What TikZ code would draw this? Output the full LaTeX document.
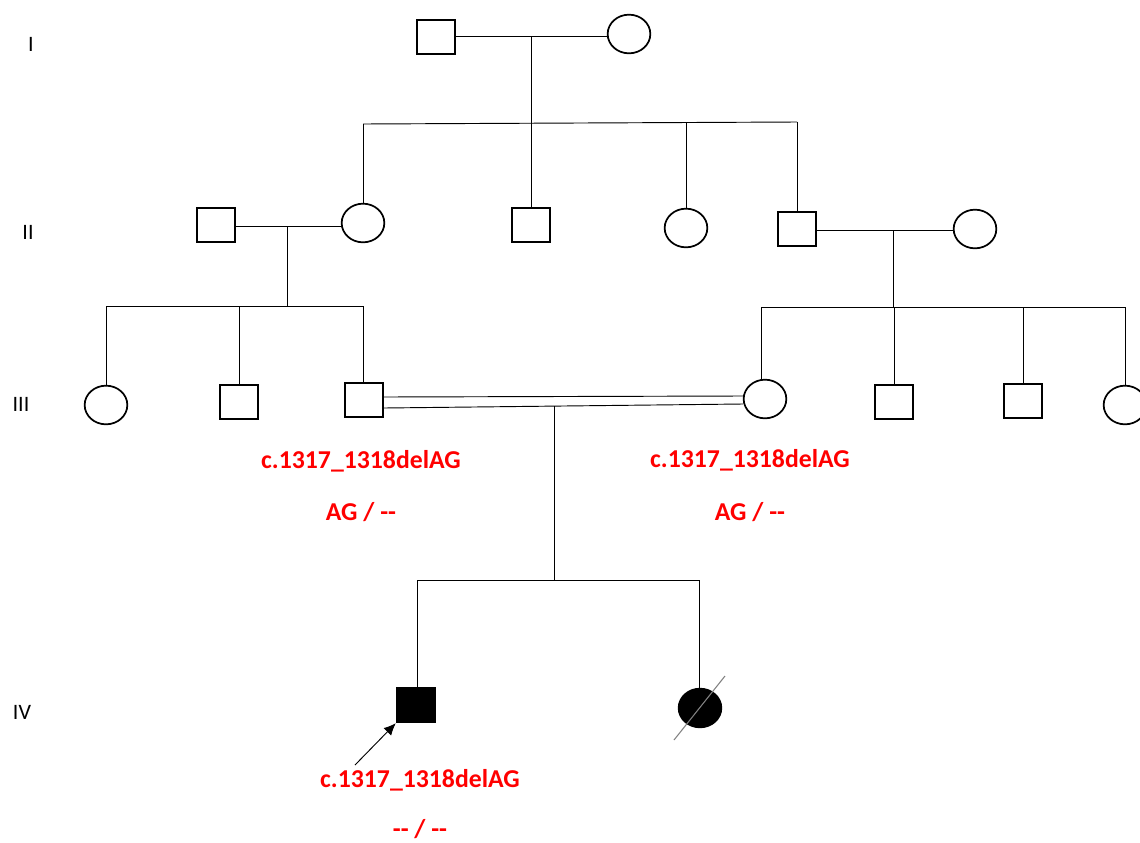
\documentclass[tikz,border=0pt]{standalone}
\usepackage{fontspec}
\setmainfont{Carlito}
\usetikzlibrary{shapes.geometric,arrows.meta}
\begin{document}
\begin{tikzpicture}[x=0.75pt,y=-0.75pt,
  male/.style={draw,line width=1.3pt,minimum width=29pt,minimum height=26pt,inner sep=0pt},
  female/.style={draw,ellipse,line width=1.3pt,minimum width=32pt,minimum height=29pt,inner sep=0pt},
  affected/.style={fill=black},
  rel/.style={line width=0.7pt},
  gen/.style={font=\fontsize{16.5}{19}\selectfont},
  mut/.style={text=red,font=\bfseries\fontsize{19.3}{23}\selectfont}]
\useasboundingbox (0,0) rectangle (1140,843);

% generation labels
\node[gen] (gI)   at (31,44)  {I};
\node[gen] (gII)  at (28,232) {II};
\node[gen] (gIII) at (21,404) {III};
\node[gen] (gIV)  at (22,712) {IV};

% generation I
\node[male]   (i1) at (436,37) {};
\node[female] (i2) at (629,34) {};
\coordinate (m1) at (531,36);
\draw[rel] (i1.east |- m1) -- (i2.west |- m1);

% generation II
\node[male]   (ii1) at (216,225) {};
\node[female] (ii2) at (363,223) {};
\node[male]   (ii3) at (531,225) {};
\node[female] (ii4) at (686,228) {};
\node[male]   (ii5) at (797,229) {};
\node[female] (ii6) at (975,229) {};

\coordinate (s1l) at (363,124);
\coordinate (s1r) at (797,122);
\draw[rel] (m1) -- (531,123);
\draw[rel] (s1l) -- (s1r);
\draw[rel] (s1l) -- (ii2.north);
\draw[rel] (531,123) -- (ii3.north);
\draw[rel] (686,123) -- (ii4.north);
\draw[rel] (s1r) -- (ii5.north);

\coordinate (m2) at (287,226);
\coordinate (m3) at (893,230);
\draw[rel] (ii1.east |- m2) -- (ii2.west |- m2);
\draw[rel] (ii5.east |- m3) -- (ii6.west |- m3);

% generation III
\node[female] (iii1) at (106,405) {};
\node[male]   (iii2) at (239,402) {};
\node[male]   (iii3) at (364,400) {};
\node[female] (iii4) at (765,399) {};
\node[male]   (iii5) at (894,402) {};
\node[male]   (iii6) at (1023,401) {};
\node[female] (iii7) at (1125,405) {};

\coordinate (s2l) at (106,306);
\coordinate (s2r) at (363,306);
\draw[rel] (m2) -- (287,306);
\draw[rel] (s2l) -- (s2r);
\draw[rel] (s2l) -- (iii1.north);
\draw[rel] (239,306) -- (iii2.north);
\draw[rel] (s2r) -- (s2r |- iii3.north);

\coordinate (s3l) at (761,307);
\coordinate (s3r) at (1125,307);
\draw[rel] (m3) -- (893,307);
\draw[rel] (s3l) -- (s3r);
\draw[rel] (s3l) -- (761,381);
\draw[rel] (894,307) -- (iii5.north);
\draw[rel] (1023,307) -- (iii6.north);
\draw[rel] (s3r) -- (iii7.north);

% consanguineous union
\draw[rel] (iii3.east |- 0,397) -- (iii4.west |- 0,396);
\draw[rel] (iii3.east |- 0,408) -- (iii4.west |- 0,404);
\coordinate (m4) at (554,406);

% generation IV
\node[male,affected]   (iv1) at (416,705) {};
\node[female,affected] (iv2) at (700,708) {};
\coordinate (s4l) at (417,580);
\coordinate (s4r) at (699,580);
\draw[rel] (m4) -- (554,580);
\draw[rel] (s4l) -- (s4r);
\draw[rel] (s4l) -- (s4l |- iv1.north);
\draw[rel] (s4r) -- (s4r |- iv2.north);

% deceased
\coordinate (d1) at (674,740);
\coordinate (d2) at (725,676);
\draw[line width=0.8pt,gray] (d1) -- (d2);

% proband arrow
\coordinate (pa) at (355,765);
\draw[rel,-{Latex[length=9pt,width=8pt]}] (pa) -- (iv1.south west);

% variant annotations
\node[mut] (t1) at (361,461) {c.1317\_1318delAG};
\node[mut] (g1) at (361,512) {AG / -{}-};
\node[mut] (t2) at (750,460) {c.1317\_1318delAG};
\node[mut] (g2) at (750,512) {AG / -{}-};
\node[mut] (t3) at (420,780) {c.1317\_1318delAG};
\node[mut] (g3) at (420,829) {-{}- / -{}-};
\end{tikzpicture}
\end{document}
